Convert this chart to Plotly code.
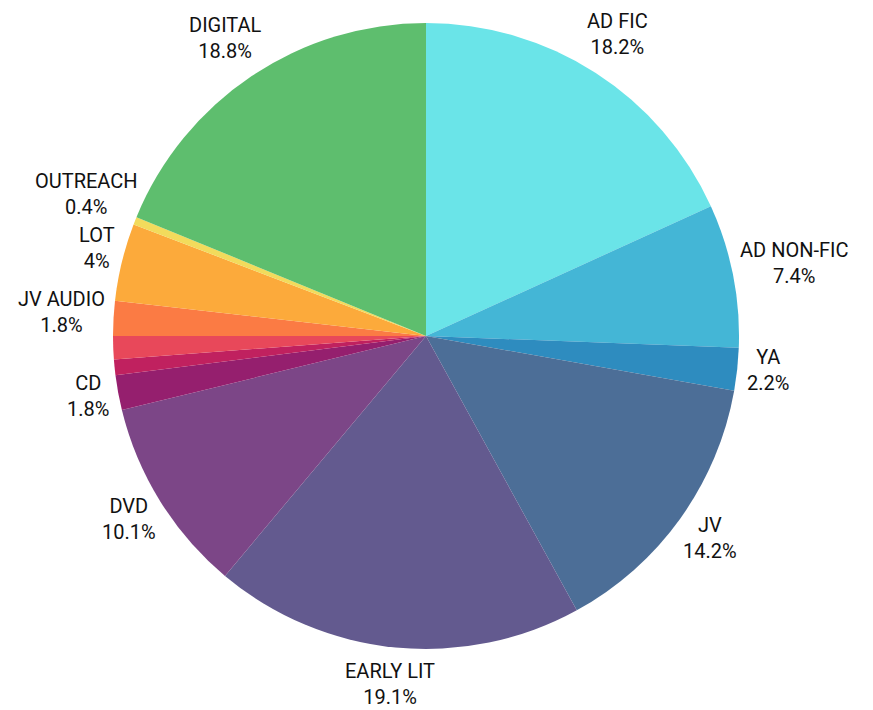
import math
import plotly.graph_objects as go

labels = ["AD FIC", "AD NON-FIC", "YA", "JV", "EARLY LIT", "DVD", "CD",
          "OTHER A", "OTHER B", "JV AUDIO", "LOT", "OUTREACH", "DIGITAL"]
values = [18.2, 7.4, 2.2, 14.2, 19.1, 10.1, 1.8, 0.8, 1.2, 1.8, 4, 0.4, 18.8]
show_label = [True, True, True, True, True, True, True, False, False, True, True, True, True]
colors = ["#6AE4E8", "#44B6D6", "#2E8CBF", "#4C6E97", "#635A8F", "#7C4687",
          "#951F6E", "#C0215F", "#E8485A", "#FB7B44", "#FCAA3B", "#F2DB5C", "#5EBE6E"]

W, H = 873, 710
M = dict(l=0, r=37, t=15, b=69)
R = min(W - M["l"] - M["r"], H - M["t"] - M["b"]) / 2  # pie radius in px

FONT = dict(family="Roboto, Lato, sans-serif", size=20, color="#111111")

fig = go.Figure(go.Pie(
    labels=labels,
    values=values,
    textinfo="none",
    sort=False,
    direction="clockwise",
    rotation=0,
    marker=dict(colors=colors, line=dict(width=0)),
    showlegend=False,
    automargin=False,
    hovertemplate="%{label}: %{value}%<extra></extra>",
))

# ---- outside labels: box placed beyond the slice edge along its bisector ----
OFF = 10        # gap between pie edge and label anchor
HALF_H = 31     # half label-box height
RAISE = 4       # glyphs sit a bit above box centre
MIN_SEP = 54    # minimal vertical distance between stacked labels on one side
CHAR_W = 10.5

total = sum(values)
cum = 0.0
items = []
for lab, v, s in zip(labels, values, show_label):
    mid = (cum + v / 2) / total * 2 * math.pi
    cum += v
    if not s:
        continue
    vx, vy = math.sin(mid), -math.cos(mid)   # vy: screen-down positive
    w = max(len(lab), len(f"{v:g}%")) * CHAR_W
    x = vx * (R + OFF) + vx * w / 2
    y = vy * (R + OFF) + vy * HALF_H - RAISE
    items.append(dict(text=f"{lab}<br>{v:g}%", x=x, y=y, side=1 if vx >= 0 else -1))

# simple collision resolution: push labels away from the horizontal axis
for side in (-1, 1):
    upper = sorted([it for it in items if it["side"] == side and it["y"] < 0], key=lambda t: -t["y"])
    for a, b in zip(upper, upper[1:]):
        if a["y"] - b["y"] < MIN_SEP:
            b["y"] = a["y"] - MIN_SEP
    lower = sorted([it for it in items if it["side"] == side and it["y"] >= 0], key=lambda t: t["y"])
    for a, b in zip(lower, lower[1:]):
        if b["y"] - a["y"] < MIN_SEP:
            b["y"] = a["y"] + MIN_SEP

for it in items:
    fig.add_annotation(
        x=0.5, y=0.5, xref="paper", yref="paper",
        xshift=it["x"], yshift=-it["y"],
        text=it["text"], showarrow=False,
        xanchor="center", yanchor="middle", align="center",
        font=FONT,
    )

fig.update_layout(
    width=W, height=H,
    margin=M,
    paper_bgcolor="white",
    plot_bgcolor="white",
)

fig.write_html("out.html")
